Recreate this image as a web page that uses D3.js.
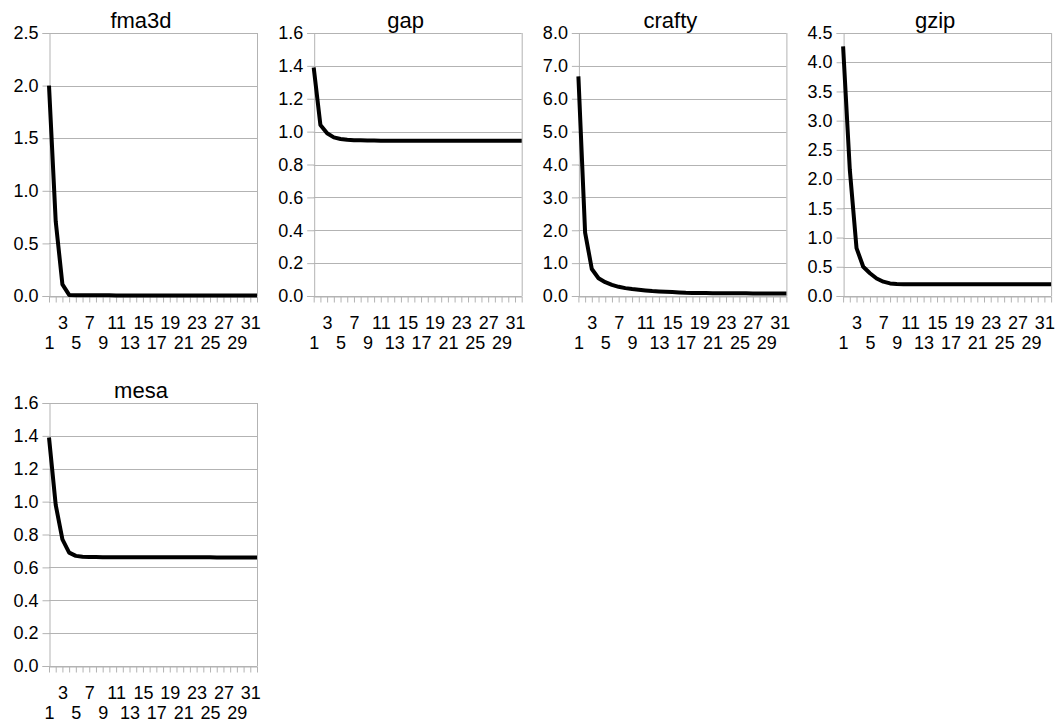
<!DOCTYPE html>
<html>
<head>
<meta charset="utf-8">
<script src="https://cdn.jsdelivr.net/npm/d3@7"></script>
<style>
  body { margin: 0; background: #fff; }
  svg text { font-family: "Liberation Sans", Arial, sans-serif; fill: #000; }
</style>
</head>
<body>
<div id="chart"></div>
<script>
// categories 1..32 (only odd ones get a label)
var categories = [1,2,3,4,5,6,7,8,9,10,11,12,13,14,15,16,17,18,19,20,21,22,23,24,25,26,27,28,29,30,31,32];

var titles = ['fma3d', 'gap', 'crafty', 'gzip', 'mesa'];

var fma3d = [2.0, 0.71, 0.11, 0.01, 0.008, 0.007, 0.006, 0.006, 0.006, 0.006, 0.005, 0.005, 0.005, 0.005, 0.005, 0.005,
             0.005, 0.005, 0.005, 0.005, 0.005, 0.005, 0.005, 0.005, 0.005, 0.005, 0.005, 0.005, 0.005, 0.005, 0.005, 0.005];
var gap = [1.39, 1.04, 0.99, 0.965, 0.955, 0.95, 0.948, 0.947, 0.946, 0.946, 0.945, 0.945, 0.945, 0.945, 0.945, 0.945,
           0.945, 0.945, 0.945, 0.945, 0.945, 0.945, 0.945, 0.945, 0.945, 0.945, 0.945, 0.945, 0.945, 0.945, 0.945, 0.945];
var crafty = [6.68, 1.93, 0.82, 0.54, 0.42, 0.34, 0.28, 0.24, 0.21, 0.19, 0.17, 0.15, 0.14, 0.13, 0.12, 0.11,
              0.1, 0.095, 0.09, 0.09, 0.085, 0.085, 0.08, 0.08, 0.08, 0.08, 0.075, 0.075, 0.075, 0.075, 0.075, 0.075];
var gzip = [4.27, 2.16, 0.82, 0.5, 0.39, 0.3, 0.245, 0.215, 0.205, 0.2, 0.2, 0.2, 0.2, 0.2, 0.2, 0.2,
            0.2, 0.2, 0.2, 0.2, 0.2, 0.2, 0.2, 0.2, 0.2, 0.2, 0.2, 0.2, 0.2, 0.2, 0.2, 0.2];
var mesa = [1.39, 0.98, 0.77, 0.69, 0.67, 0.665, 0.663, 0.663, 0.662, 0.662, 0.662, 0.662, 0.662, 0.662, 0.662, 0.662,
            0.662, 0.662, 0.662, 0.662, 0.661, 0.661, 0.661, 0.661, 0.661, 0.66, 0.66, 0.66, 0.66, 0.66, 0.66, 0.66];

var seriesList = [fma3d, gap, crafty, gzip, mesa];
var yMaxes = [2.5, 1.6, 8.0, 4.5, 1.6];
var ySteps = [0.5, 0.2, 1.0, 0.5, 0.2];

var width = 1058, height = 722;
var plotW = 208, plotH = 263;
var colStep = 264.7, rowStep = 370;
var firstLeft = 49, firstTop = 33;

var svg = d3.select('#chart')
    .append('svg')
    .attr('width', width)
    .attr('height', height);

titles.forEach(function (title, i) {
    var col = i % 4, row = Math.floor(i / 4);
    var left = firstLeft + col * colStep;
    var top = firstTop + row * rowStep;
    var data = seriesList[i];

    var x = d3.scalePoint().domain(categories).range([0, plotW]);
    var y = d3.scaleLinear().domain([0, yMaxes[i]]).range([plotH, 0]);
    var yTicks = d3.range(0, yMaxes[i] + ySteps[i] / 2, ySteps[i]);

    var g = svg.append('g').attr('transform', 'translate(' + left + ',' + top + ')');

    // gridlines
    g.selectAll('line.grid')
        .data(yTicks)
        .enter()
        .append('line')
        .attr('x1', 0).attr('x2', plotW)
        .attr('y1', function (d) { return Math.round(y(d)) + 0.5; })
        .attr('y2', function (d) { return Math.round(y(d)) + 0.5; })
        .attr('stroke', '#b3b3b3');

    // right border
    g.append('line')
        .attr('x1', plotW + 0.5).attr('x2', plotW + 0.5)
        .attr('y1', 0).attr('y2', plotH)
        .attr('stroke', '#b3b3b3');

    // y axis
    var yAxis = g.append('g')
        .attr('transform', 'translate(0.5,0)')
        .call(d3.axisLeft(y).tickValues(yTicks).tickFormat(d3.format('.1f')).tickSize(7).tickPadding(4));
    yAxis.select('.domain').attr('stroke', '#b3b3b3');
    yAxis.selectAll('.tick line').attr('stroke', '#b3b3b3');
    yAxis.selectAll('.tick text').attr('font-size', '18px').attr('fill', '#000');

    // x axis, labels staggered over two rows
    var xAxis = g.append('g')
        .attr('transform', 'translate(0,' + (plotH + 0.5) + ')')
        .call(d3.axisBottom(x)
            .tickFormat(function (d) { return d % 2 === 1 ? d : ''; })
            .tickSize(6).tickSizeOuter(0).tickPadding(4));
    xAxis.select('.domain').attr('stroke', '#b3b3b3');
    xAxis.selectAll('.tick line').attr('stroke', '#b3b3b3');
    xAxis.selectAll('.tick text')
        .attr('font-size', '18px')
        .attr('fill', '#000')
        .attr('dy', function (d) {
            return ((d - 1) / 2) % 2 === 0 ? '42px' : '22px';
        });

    // series line
    g.append('path')
        .datum(data)
        .attr('fill', 'none')
        .attr('stroke', '#000')
        .attr('stroke-width', 4)
        .attr('stroke-linejoin', 'round')
        .attr('d', d3.line()
            .x(function (d, k) { return x(categories[k]); })
            .y(function (d) { return y(d); }));

    // title
    g.append('text')
        .attr('x', plotW / 2 - 12)
        .attr('y', -5)
        .attr('text-anchor', 'middle')
        .attr('font-size', '22px')
        .text(title);
});
</script>
</body>
</html>
